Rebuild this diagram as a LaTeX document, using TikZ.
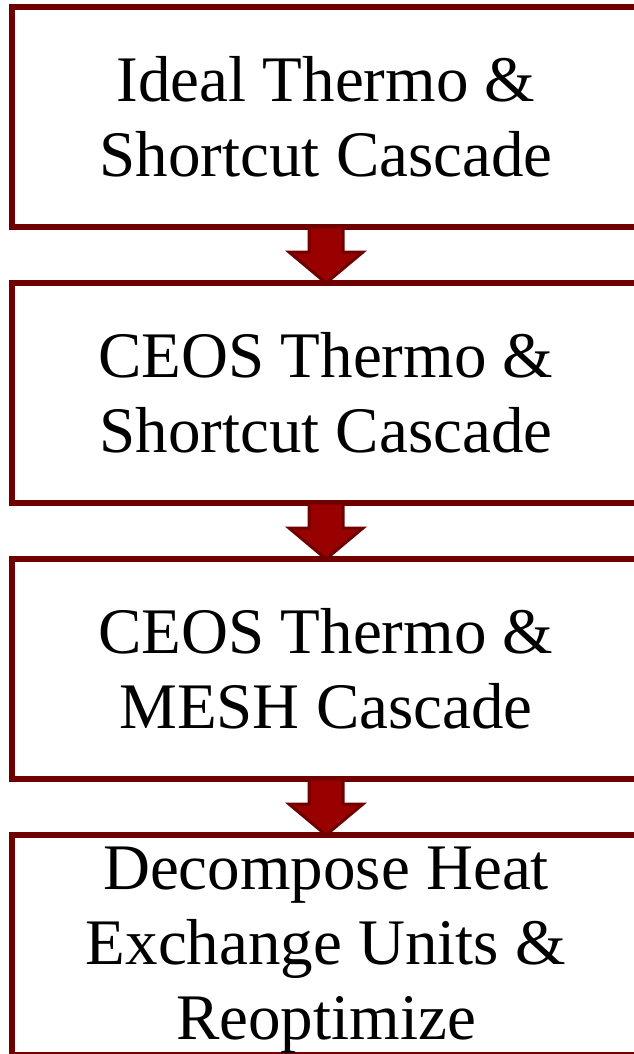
\documentclass[tikz,border=0pt]{standalone}
\usepackage{fontspec}
\setmainfont{Liberation Serif}
\usetikzlibrary{positioning,calc}
\definecolor{boxred}{RGB}{112,0,0}
\definecolor{arrowred}{RGB}{153,0,0}
\tikzset{
  stagebox/.style={draw=boxred, line width=6pt, minimum width=628pt, minimum height=220pt,
    outer sep=0pt, inner sep=0pt, align=center, font=\fontsize{65}{75}\selectfont},
  blockarrow/.style={fill=arrowred, draw=boxred, line width=3pt, line join=miter}
}

\begin{document}
\begin{tikzpicture}[x=1pt,y=-1pt]
    \useasboundingbox (0,0) rectangle (633,1054);
    \node[stagebox] (ideal) at (326,117) {Ideal Thermo \&\\Shortcut Cascade};
    \node[stagebox, below=56pt of ideal] (ceos) {CEOS Thermo \&\\Shortcut Cascade};
    \node[stagebox, below=56pt of ceos] (mesh) {CEOS Thermo \&\\MESH Cascade};
    \node[stagebox, below=56pt of mesh, text depth=4pt] (decomp) {Decompose Heat\\Exchange Units \&\\Reoptimize};
    % block arrows between the stages
    \foreach \a/\b in {ideal/ceos, ceos/mesh, mesh/decomp}
        \draw[blockarrow] ($(\a.south)+(-17,0)$) -- ($(\a.south)+(-17,25)$)
            -- ($(\a.south)+(-37,25)$) -- (\b.north) -- ($(\a.south)+(37,25)$)
            -- ($(\a.south)+(17,25)$) -- ($(\a.south)+(17,0)$) -- cycle;
\end{tikzpicture}
\end{document}
